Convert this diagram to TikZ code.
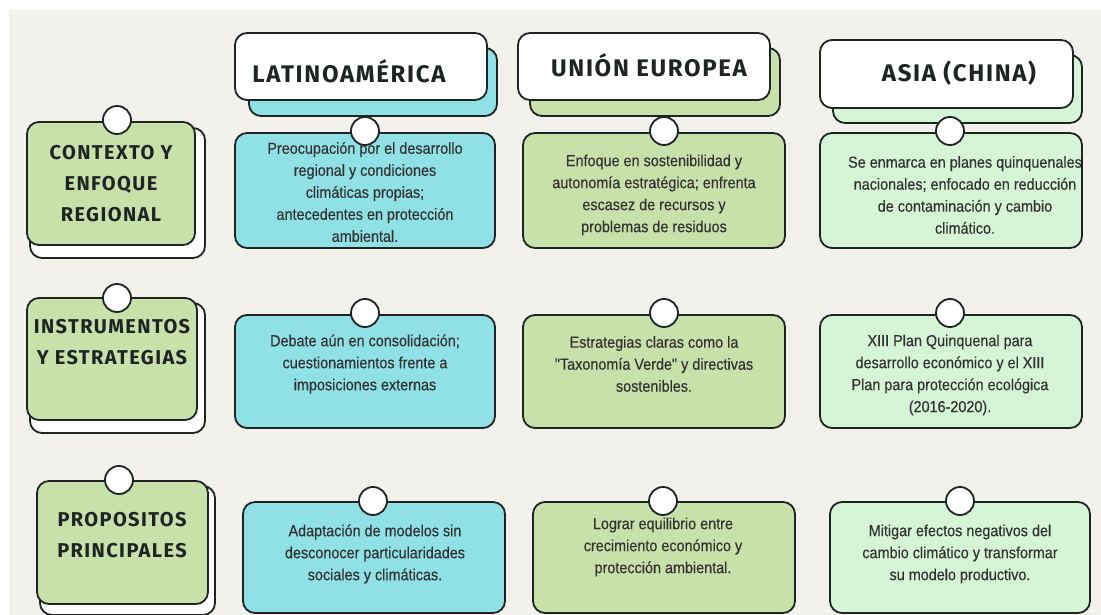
\documentclass[tikz,border=0pt]{standalone}
\usepackage{fontspec}
\setmainfont{Liberation Sans}
\newfontfamily\handfont[LetterSpace=7]{Fira Sans}
\newfontfamily\cellfont[FakeStretch=0.9,FakeBold=0.3]{Liberation Sans}
\usetikzlibrary{positioning}
\definecolor{paper}{RGB}{242,241,236}
\definecolor{latcyan}{RGB}{143,225,230}
\definecolor{eugreen}{RGB}{200,224,170}
\definecolor{asiagreen}{RGB}{214,245,214}
\definecolor{ink}{RGB}{30,36,36}
\definecolor{grayink}{RGB}{50,50,50}

\begin{document}
\begin{tikzpicture}[x=1pt, y=-1pt,
    box/.style={draw=ink, line width=1.8pt, rounded corners=12pt, inner sep=0pt},
    tack/.style={circle, draw=ink, line width=1.8pt, fill=white, minimum size=28pt, inner sep=0pt},
    celltext/.style={font=\cellfont\fontsize{16}{22}\selectfont, text=grayink, align=center},
    headtext/.style={font=\handfont\bfseries\fontsize{24}{28}\selectfont, text=ink},
    rowtext/.style={font=\handfont\bfseries\fontsize{20}{31}\selectfont, text=ink, align=center}]
    \useasboundingbox (0,0) rectangle (1101,615);
    \fill[white] (0,0) rectangle (1101,615);
    \fill[paper] (9,10) rectangle (1101,615);

    \node (LatS) at (373,82) [box, fill=latcyan, minimum width=248pt, minimum height=68pt] {};
    \node (LatB) at (361,66.5) [box, fill=white, minimum width=252pt, minimum height=67pt] {};
    \node (LatH) at (349,71) [headtext] {LATINOAMÉRICA};
    \node (EurS) at (655,82) [box, fill=eugreen, minimum width=250pt, minimum height=68pt] {};
    \node (EurB) at (644,66.5) [box, fill=white, minimum width=252pt, minimum height=67pt] {};
    \node (EurH) at (649,65) [headtext] {UNIÓN EUROPEA};
    \node (AsiS) at (957.5,89) [box, fill=asiagreen, minimum width=249pt, minimum height=68pt] {};
    \node (AsiB) at (946.5,74) [box, fill=white, minimum width=253pt, minimum height=68pt] {};
    \node (AsiH) at (959,73) [headtext] {ASIA (CHINA)};

    \node (CtxS) at (117.5,193) [box, fill=white, minimum width=175pt, minimum height=130pt] {};
    \node (CtxB) at (111,183.5) [box, fill=eugreen, minimum width=168pt, minimum height=123pt] {};
    \node (Ctx) at (111,184) [rowtext] {CONTEXTO Y\\ENFOQUE\\REGIONAL};
    \node (InsS) at (117.5,368) [box, fill=white, minimum width=175pt, minimum height=130pt] {};
    \node (InsB) at (112,359) [box, fill=eugreen, minimum width=170pt, minimum height=122pt] {};
    \node (Ins) at (112,342) [rowtext] {INSTRUMENTOS\\Y ESTRATEGIAS};
    \node (ProS) at (127.5,550.5) [box, fill=white, minimum width=175pt, minimum height=129pt] {};
    \node (ProB) at (122.5,542.5) [box, fill=eugreen, minimum width=171pt, minimum height=123pt] {};
    \node (Pro) at (122,535) [rowtext] {PROPOSITOS\\PRINCIPALES};

    \node (LatCtxB) at (365,190.5) [box, fill=latcyan, minimum width=260pt, minimum height=115pt] {};
    \node (EurCtxB) at (654,190.5) [box, fill=eugreen, minimum width=262pt, minimum height=115pt] {};
    \node (AsiCtxB) at (951,190.5) [box, fill=asiagreen, minimum width=262pt, minimum height=115pt] {};
    \node (LatInsB) at (365,371.5) [box, fill=latcyan, minimum width=260pt, minimum height=113pt] {};
    \node (EurInsB) at (654,371.5) [box, fill=eugreen, minimum width=262pt, minimum height=113pt] {};
    \node (AsiInsB) at (951,371.5) [box, fill=asiagreen, minimum width=262pt, minimum height=113pt] {};
    \node (LatProB) at (374,557.5) [box, fill=latcyan, minimum width=262pt, minimum height=111pt] {};
    \node (EurProB) at (664,557.5) [box, fill=eugreen, minimum width=262pt, minimum height=111pt] {};
    \node (AsiProB) at (960,557.5) [box, fill=asiagreen, minimum width=260pt, minimum height=111pt] {};

    \node (LatCtx) at (365,192) [celltext] {Preocupación por el desarrollo\\regional y condiciones\\climáticas propias;\\antecedentes en protección\\ambiental.};
    \node (EurCtx) at (654,195) [celltext] {Enfoque en sostenibilidad y\\autonomía estratégica; enfrenta\\escasez de recursos y\\problemas de residuos};
    \node (AsiCtx) at (965,195) [celltext] {Se enmarca en planes quinquenales\\nacionales; enfocado en reducción\\de contaminación y cambio\\climático.};
    \node (LatIns) at (365,364) [celltext] {Debate aún en consolidación;\\cuestionamientos frente a\\imposiciones externas};
    \node (EurIns) at (654,364) [celltext] {Estrategias claras como la\\"Taxonomía Verde" y directivas\\sostenibles.};
    \node (AsiIns) at (950,375) [celltext] {XIII Plan Quinquenal para\\desarrollo económico y el XIII\\Plan para protección ecológica\\(2016-2020).};
    \node (LatPro) at (375,554) [celltext] {Adaptación de modelos sin\\desconocer particularidades\\sociales y climáticas.};
    \node (EurPro) at (663,547) [celltext] {Lograr equilibrio entre\\crecimiento económico y\\protección ambiental.};
    \node (AsiPro) at (960,554) [celltext] {Mitigar efectos negativos del\\cambio climático y transformar\\su modelo productivo.};

    \node (CtxT) at (117,120) [tack] {};
    \node (InsT) at (117,298) [tack] {};
    \node (ProT) at (119,480) [tack] {};
    \node (LatCtxT) at (365,131) [tack] {};
    \node (EurCtxT) at (664,131) [tack] {};
    \node (AsiCtxT) at (950,131) [tack] {};
    \node (LatInsT) at (365,313) [tack] {};
    \node (EurInsT) at (664,313) [tack] {};
    \node (AsiInsT) at (950,313) [tack] {};
    \node (LatProT) at (373,501) [tack] {};
    \node (EurProT) at (663,501) [tack] {};
    \node (AsiProT) at (960,501) [tack] {};
\end{tikzpicture}
\end{document}
